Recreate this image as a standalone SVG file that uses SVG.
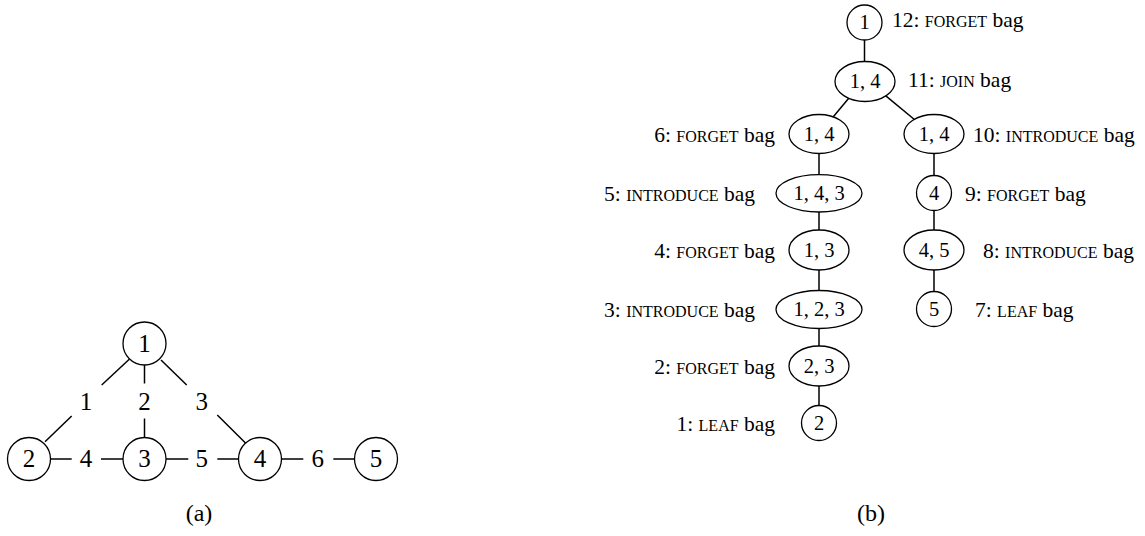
<svg xmlns="http://www.w3.org/2000/svg" width="1145" height="536" viewBox="0 0 1145 536">
<style>
text{font-family:"Liberation Serif","Times New Roman",serif;font-size:21.5px;fill:#000}
.n{text-anchor:middle;font-size:20.5px}
.g{text-anchor:middle;font-size:25px}
.cap{text-anchor:middle;font-size:24px}
.e{text-anchor:end}
.sc{font-size:16px}
.shape{fill:#fff;stroke:#000;stroke-width:1.3}
.edge{stroke:#000;stroke-width:1.5;fill:none}
</style>
<rect width="1145" height="536" fill="#fff"/>
<g id="connectors-a">
<line class="edge" x1="129.3" y1="359.3" x2="101.7" y2="385"/>
<line class="edge" x1="71.7" y1="416" x2="45" y2="441.7"/>
<line class="edge" x1="144.5" y1="365" x2="144.5" y2="383.5"/>
<line class="edge" x1="144.5" y1="418.5" x2="144.5" y2="437.5"/>
<line class="edge" x1="161" y1="360" x2="186.7" y2="385"/>
<line class="edge" x1="217.3" y1="415" x2="245.5" y2="443"/>
<line class="edge" x1="50.5" y1="459" x2="71.7" y2="459"/>
<line class="edge" x1="101" y1="459" x2="123" y2="459"/>
<line class="edge" x1="166" y1="459" x2="188.3" y2="459"/>
<line class="edge" x1="217.3" y1="459" x2="238.5" y2="459"/>
<line class="edge" x1="281.5" y1="459" x2="303.3" y2="459"/>
<line class="edge" x1="333.3" y1="459" x2="354.5" y2="459"/>
<text class="g" x="86" y="410">1</text>
<text class="g" x="144.5" y="410">2</text>
<text class="g" x="201.7" y="410">3</text>
<text class="g" x="86" y="467.3">4</text>
<text class="g" x="201.7" y="467.3">5</text>
<text class="g" x="317.7" y="467.3">6</text>
</g>
<g id="a-node1"><circle class="shape" cx="144.5" cy="343.5" r="21.5"/><text class="g" x="144.5" y="351.8">1</text></g>
<g id="a-node2"><circle class="shape" cx="29" cy="459" r="21.5"/><text class="g" x="29" y="467.3">2</text></g>
<g id="a-node3"><circle class="shape" cx="144.5" cy="459" r="21.5"/><text class="g" x="144.5" y="467.3">3</text></g>
<g id="a-node4"><circle class="shape" cx="260" cy="459" r="21.5"/><text class="g" x="260" y="467.3">4</text></g>
<g id="a-node5"><circle class="shape" cx="376" cy="459" r="21.5"/><text class="g" x="376" y="467.3">5</text></g>
<text class="cap" x="199" y="521">(a)</text>

<g id="connectors-b">
<line class="edge" x1="864.5" y1="40" x2="864.5" y2="61.5"/>
<line class="edge" x1="850" y1="96.7" x2="833.3" y2="116.7"/>
<line class="edge" x1="884" y1="94.3" x2="915" y2="120"/>
<line class="edge" x1="819" y1="153.5" x2="819" y2="174.5"/>
<line class="edge" x1="819" y1="211.5" x2="819" y2="230"/>
<line class="edge" x1="819" y1="270" x2="819" y2="290.5"/>
<line class="edge" x1="819" y1="328.5" x2="819" y2="346"/>
<line class="edge" x1="819" y1="386" x2="819" y2="405.5"/>
<line class="edge" x1="934" y1="153.5" x2="934" y2="175.5"/>
<line class="edge" x1="934" y1="210.5" x2="934" y2="230"/>
<line class="edge" x1="934" y1="270" x2="934" y2="291.5"/>
</g>
<g id="b-bag12"><circle class="shape" cx="864.5" cy="22.5" r="17.5"/><text class="n" x="864.5" y="29.3">1</text><text x="892" y="27">12: <tspan class="sc">FORGET</tspan> bag</text></g>
<g id="b-bag11"><ellipse class="shape" cx="865" cy="81.5" rx="30" ry="20"/><text class="n" x="865" y="88.3">1, 4</text><text x="908" y="87">11: <tspan class="sc">JOIN</tspan> bag</text></g>
<g id="b-bag6"><ellipse class="shape" cx="819" cy="134" rx="30" ry="19.5"/><text class="n" x="819" y="140.8">1, 4</text><text class="e" x="775" y="141.5">6: <tspan class="sc">FORGET</tspan> bag</text></g>
<g id="b-bag5"><ellipse class="shape" cx="819" cy="193.3" rx="43" ry="18.7"/><text class="n" x="819" y="200">1, 4, 3</text><text class="e" x="755" y="200.5">5: <tspan class="sc">INTRODUCE</tspan> bag</text></g>
<g id="b-bag4"><ellipse class="shape" cx="819" cy="250" rx="30" ry="20"/><text class="n" x="819" y="256.8">1, 3</text><text class="e" x="775" y="257.5">4: <tspan class="sc">FORGET</tspan> bag</text></g>
<g id="b-bag3"><ellipse class="shape" cx="819" cy="309.5" rx="43" ry="19"/><text class="n" x="819" y="316.3">1, 2, 3</text><text class="e" x="755" y="316.5">3: <tspan class="sc">INTRODUCE</tspan> bag</text></g>
<g id="b-bag2"><ellipse class="shape" cx="819" cy="366" rx="30" ry="20"/><text class="n" x="819" y="372.8">2, 3</text><text class="e" x="775" y="373.5">2: <tspan class="sc">FORGET</tspan> bag</text></g>
<g id="b-bag1"><circle class="shape" cx="819" cy="423" r="17.5"/><text class="n" x="819" y="429.8">2</text><text class="e" x="775" y="430.5">1: <tspan class="sc">LEAF</tspan> bag</text></g>
<g id="b-bag10"><ellipse class="shape" cx="934" cy="134" rx="30" ry="19.5"/><text class="n" x="934" y="140.8">1, 4</text><text x="973" y="141.5">10: <tspan class="sc">INTRODUCE</tspan> bag</text></g>
<g id="b-bag9"><circle class="shape" cx="934" cy="193" r="17.5"/><text class="n" x="934" y="199.8">4</text><text x="965" y="200.5">9: <tspan class="sc">FORGET</tspan> bag</text></g>
<g id="b-bag8"><ellipse class="shape" cx="934" cy="250" rx="30" ry="20"/><text class="n" x="934" y="256.8">4, 5</text><text x="983" y="257.5">8: <tspan class="sc">INTRODUCE</tspan> bag</text></g>
<g id="b-bag7"><circle class="shape" cx="934" cy="309" r="17.5"/><text class="n" x="934" y="315.8">5</text><text x="975" y="316.5">7: <tspan class="sc">LEAF</tspan> bag</text></g>
<text class="cap" x="871" y="521">(b)</text>
</svg>
